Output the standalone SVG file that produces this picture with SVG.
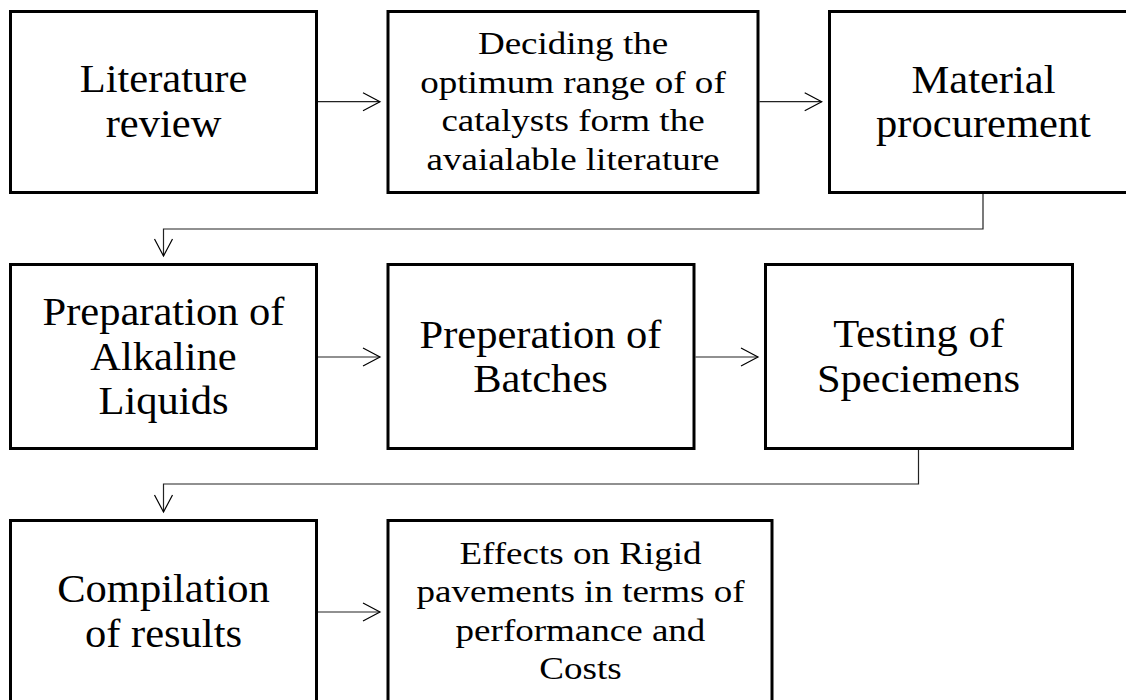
<svg xmlns="http://www.w3.org/2000/svg" width="1126" height="700" viewBox="0 0 1126 700">
<defs>
<marker id="arr" markerUnits="userSpaceOnUse" markerWidth="20" markerHeight="20" refX="17" refY="9" orient="auto" overflow="visible">
<path d="M0,0 L17,9 L0,18" fill="none" stroke="#000" stroke-width="1.2"/>
</marker>
<style>
.box{fill:#fff;stroke:#000;stroke-width:3}
.t{font-family:"Liberation Serif","Times New Roman",serif;fill:#000;text-anchor:middle}
.big{font-size:40.5px}
.sm{font-size:32.5px}
.c{fill:none;stroke:#222;stroke-width:1.2;marker-end:url(#arr)}
</style>
</defs>
<rect width="1126" height="700" fill="#fff"/>
<g id="connectors">
<path class="c" d="M318,101.7 H380"/>
<path class="c" d="M759.5,101.7 H821.7"/>
<path class="c" d="M983,194 V229 H163.5 V256"/>
<path class="c" d="M318,357 H380"/>
<path class="c" d="M695.5,357 H758"/>
<path class="c" d="M918.5,450 V484 H163.5 V512"/>
<path class="c" d="M318,612 H380"/>
</g>
<g id="n1"><rect class="box" x="10.5" y="11.5" width="306" height="181"/>
<text class="t big" font-family="Liberation Serif, serif" transform="translate(163.5,0) scale(1.05,1)"><tspan x="0" y="91.7">Literature</tspan><tspan x="0" y="136.7">review</tspan></text></g>
<g id="n2"><rect class="box" x="388" y="11.5" width="370" height="181"/>
<text class="t sm" font-family="Liberation Serif, serif" transform="translate(573,0) scale(1.14,1)"><tspan x="0" y="54.3">Deciding the</tspan><tspan x="0" y="92.7">optimum range of of</tspan><tspan x="0" y="131.2">catalysts form the</tspan><tspan x="0" y="169.7">avaialable literature</tspan></text></g>
<g id="n3"><rect class="box" x="829.5" y="11.5" width="310" height="181"/>
<text class="t big" font-family="Liberation Serif, serif" transform="translate(983.5,0) scale(1.05,1)"><tspan x="0" y="93.3">Material</tspan><tspan x="0" y="136.7">procurement</tspan></text></g>
<g id="n4"><rect class="box" x="10.5" y="264.5" width="306" height="184"/>
<text class="t big" font-family="Liberation Serif, serif" transform="translate(163.5,0) scale(1.05,1)"><tspan x="0" y="325">Preparation of</tspan><tspan x="0" y="370">Alkaline</tspan><tspan x="0" y="414">Liquids</tspan></text></g>
<g id="n5"><rect class="box" x="388" y="264.5" width="306" height="184"/>
<text class="t big" font-family="Liberation Serif, serif" transform="translate(540.5,0) scale(1.05,1)"><tspan x="0" y="348.3">Preperation of</tspan><tspan x="0" y="391.7">Batches</tspan></text></g>
<g id="n6"><rect class="box" x="765.5" y="264.5" width="307" height="184"/>
<text class="t big" font-family="Liberation Serif, serif" transform="translate(918.5,0) scale(1.05,1)"><tspan x="0" y="347.3">Testing of</tspan><tspan x="0" y="391.7">Speciemens</tspan></text></g>
<g id="n7"><rect class="box" x="10.5" y="520.5" width="306" height="200"/>
<text class="t big" font-family="Liberation Serif, serif" transform="translate(163.5,0) scale(1.05,1)"><tspan x="0" y="601.7">Compilation</tspan><tspan x="0" y="646.7">of results</tspan></text></g>
<g id="n8"><rect class="box" x="388" y="520.5" width="384" height="200"/>
<text class="t sm" font-family="Liberation Serif, serif" transform="translate(580.5,0) scale(1.14,1)"><tspan x="0" y="564">Effects on Rigid</tspan><tspan x="0" y="602.5">pavements in terms of</tspan><tspan x="0" y="641">performance and</tspan><tspan x="0" y="679.5">Costs</tspan></text></g>
</svg>
